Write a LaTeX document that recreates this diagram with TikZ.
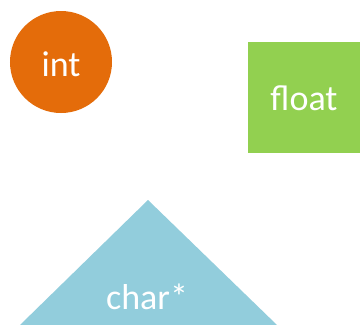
\documentclass[tikz,border=0pt]{standalone}
\usepackage{fontspec}
\setmainfont{Carlito}
\definecolor{intorange}{HTML}{E46C0A}
\definecolor{floatgreen}{HTML}{92D050}
\definecolor{charblue}{HTML}{92CDDC}
\begin{document}
\begin{tikzpicture}[x=1pt,y=-1pt,
  lbl/.style={text=white,font=\fontsize{36}{40}\selectfont,inner sep=0pt}]
\useasboundingbox (0,0) rectangle (360,325);
\fill[white] (0,0) rectangle (360,325);
% int circle
\fill[intorange] (61,62) circle[radius=51];
\node[lbl] (int) at (61,64) {int};
% float square
\fill[floatgreen] (248,42) rectangle (360,153);
\node[lbl] (float) at (304,98) {float};
% char* triangle
\fill[charblue] (148,200) -- (277,325) -- (20,325) -- cycle;
\node[lbl] (char) at (147,297) {char*};
\end{tikzpicture}
\end{document}
